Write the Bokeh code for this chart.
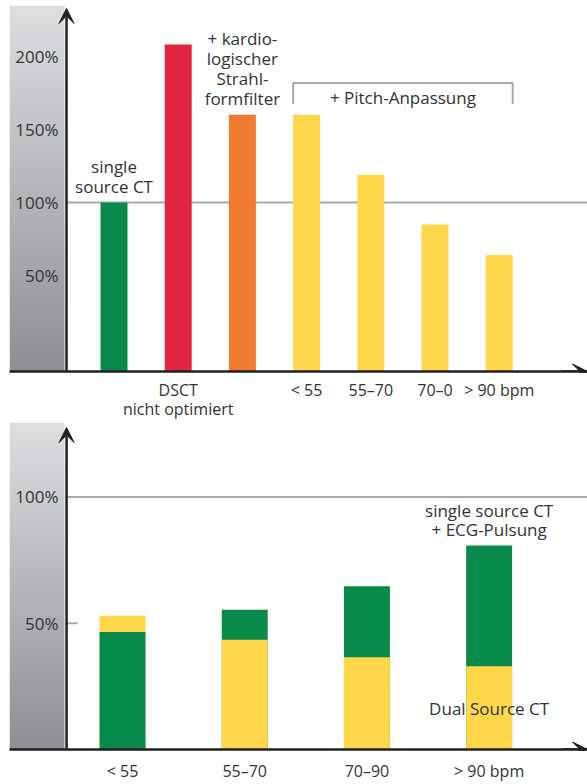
import numpy as np
from bokeh.plotting import figure
from bokeh.models import Range1d, FixedTicker, Arrow, VeeHead, ColumnDataSource
from bokeh.layouts import column
from bokeh.embed import file_html
from bokeh.resources import INLINE
from bokeh.core.properties import value

# ---------------- data ----------------
top_categories = ["single source CT", "DSCT nicht optimiert", "+ kardiologischer Strahlformfilter",
                  "< 55", "55–70", "70–0", "> 90 bpm"]
top_values = [100, 208, 160, 160, 119, 85, 64]
top_colors = ["#078a4a", "#e1263f", "#f27a30", "#fed84a", "#fed84a", "#fed84a", "#fed84a"]
top_tick_positions = [1, 3, 4, 5, 6]
top_tick_labels = ["DSCT\nnicht optimiert", "< 55", "55–70", "70–0", "> 90 bpm"]
top_y_ticks = [50, 100, 150, 200]
top_y_labels = ["50%", "100%", "150%", "200%"]

bottom_categories = ["< 55", "55–70", "70–90", "> 90 bpm"]
dual_source = [53, 43.5, 36.5, 33]
single_source_ecg = [46.5, 55.3, 64.7, 80.8]
bottom_y_ticks = [50, 100]
bottom_y_labels = ["50%", "100%"]

GREEN = "#078a4a"
YELLOW = "#fed84a"
FONT = "Open Sans"
TXT = "#333333"
AX = "#231f20"
GRID = "#a8a9ab"


def gradient_image(n=256):
    t = np.linspace(0.0, 1.0, n)[:, None]
    bot = np.array([141, 143, 147], dtype=float)
    top = np.array([221, 222, 224], dtype=float)
    rgb = np.round(bot + (top - bot) * t).astype(np.uint8)
    img = np.zeros((n, 1), dtype=np.uint32)
    v = img.view(dtype=np.uint8).reshape((n, 1, 4))
    v[:, 0, 0] = rgb[:, 0]
    v[:, 0, 1] = rgb[:, 1]
    v[:, 0, 2] = rgb[:, 2]
    v[:, 0, 3] = 255
    return img


def style_common(p):
    p.outline_line_color = None
    p.grid.visible = False
    p.background_fill_color = "white"
    p.border_fill_color = "white"


def style_yaxis(p, ticks, labels):
    ax = p.yaxis[0]
    ax.ticker = FixedTicker(ticks=ticks)
    ax.major_label_overrides = {t: l for t, l in zip(ticks, labels)}
    ax.axis_line_color = None
    ax.major_tick_line_color = None
    ax.minor_tick_line_color = None
    ax.major_tick_out = 0
    ax.major_tick_in = 0
    ax.major_label_standoff = -49
    ax.major_label_text_font = FONT
    ax.major_label_text_font_size = "17px"
    ax.major_label_text_color = TXT


def style_xaxis(p, ticks, labels, standoff):
    ax = p.xaxis[0]
    ax.ticker = FixedTicker(ticks=ticks)
    ax.major_label_overrides = {t: l for t, l in zip(ticks, labels)}
    ax.axis_line_color = AX
    ax.axis_line_width = 2.5
    ax.major_tick_line_color = None
    ax.minor_tick_line_color = None
    ax.major_tick_out = 0
    ax.major_tick_in = 0
    ax.major_label_standoff = standoff
    ax.major_label_text_font = FONT
    ax.major_label_text_font_size = "16px"
    ax.major_label_text_color = TXT
    ax.major_label_text_line_height = 0.88


# ---------------- top chart ----------------
tx0, tx1 = -1.628, 7.375
ty0, ty1 = -15.6, 234.7
t_axis_x = -0.74
t_panel_right = -0.771
bar_w_top = 0.42

p1 = figure(width=587, height=422, x_range=Range1d(tx0, tx1), y_range=Range1d(ty0, ty1),
            output_backend="svg", toolbar_location=None,
            min_border_left=9, min_border_right=0, min_border_top=5, min_border_bottom=49)
style_common(p1)

p1.image_rgba(image=[gradient_image()], x=tx0, y=ty0, dw=t_panel_right - tx0, dh=ty1 - ty0)
p1.segment(x0=[t_axis_x], y0=[100], x1=[tx1], y1=[100], line_color=GRID, line_width=2)

p1.vbar(x=list(range(len(top_values))), top=top_values, bottom=ty0, width=bar_w_top,
        fill_color=top_colors, line_color=None)

p1.text(x=[0], y=[top_values[0]], text=["single\nsource CT"], text_align="center",
        text_baseline="bottom", y_offset=-4, text_font=value(FONT), text_font_size="17px",
        text_color=TXT, text_line_height=0.91)
p1.text(x=[2], y=[top_values[2]], text=["+ kardio-\nlogischer\nStrahl-\nformfilter"],
        text_align="center", text_baseline="bottom", y_offset=-5, text_font=value(FONT),
        text_font_size="17px", text_color=TXT, text_line_height=0.87)

# bracket "+ Pitch-Anpassung"
bl = 3 - bar_w_top / 2
br = 6 + bar_w_top / 2
p1.line(x=[bl, bl, br, br], y=[167.4, 181.7, 181.7, 167.4], line_color=GRID, line_width=2)
p1.text(x=[(3 + 6) / 2], y=[171.5], text=["+ Pitch-Anpassung"], text_align="center",
        text_baseline="middle", text_font=value(FONT), text_font_size="17px", text_color=TXT)

style_yaxis(p1, top_y_ticks, top_y_labels)
style_xaxis(p1, top_tick_positions, top_tick_labels, 7)

p1.add_layout(Arrow(end=VeeHead(size=15, fill_color=AX, line_color=AX),
                    x_start=t_axis_x, y_start=ty0, x_end=t_axis_x, y_end=ty1 - 2,
                    line_color=AX, line_width=2.5))
p1.add_layout(Arrow(end=VeeHead(size=15, fill_color=AX, line_color=AX),
                    x_start=tx1 - 0.4, y_start=ty0, x_end=tx1, y_end=ty0,
                    line_color=AX, line_width=2.5))

# ---------------- bottom chart ----------------
bx0, bx1 = -0.925, 3.805
by0, by1 = 0, 129.5
b_axis_x = -0.458
b_panel_right = -0.475
bar_w_bot = 0.376

p2 = figure(width=587, height=362, x_range=Range1d(bx0, bx1), y_range=Range1d(by0, by1),
            output_backend="svg", toolbar_location=None,
            min_border_left=9, min_border_right=0, min_border_top=0, min_border_bottom=31)
style_common(p2)

p2.image_rgba(image=[gradient_image()], x=bx0, y=by0, dw=b_panel_right - bx0, dh=by1 - by0)
p2.segment(x0=[b_axis_x], y0=[100], x1=[bx1], y1=[100], line_color=GRID, line_width=2)
p2.segment(x0=[b_axis_x], y0=[50], x1=[b_axis_x + 0.09], y1=[50], line_color=GRID, line_width=2)

back_x, back_top, back_col, front_x, front_top, front_col = [], [], [], [], [], []
for i, (d, s) in enumerate(zip(dual_source, single_source_ecg)):
    pair = sorted([(d, YELLOW), (s, GREEN)], reverse=True)
    back_x.append(i); back_top.append(pair[0][0]); back_col.append(pair[0][1])
    front_x.append(i); front_top.append(pair[1][0]); front_col.append(pair[1][1])
src = ColumnDataSource(dict(x=back_x + front_x, top=back_top + front_top, color=back_col + front_col))
p2.vbar(x="x", top="top", bottom=0, width=bar_w_bot, fill_color="color", line_color=None, source=src)

p2.text(x=[3], y=[single_source_ecg[3]], text=["single source CT\n+ ECG-Pulsung"],
        text_align="center", text_baseline="bottom", y_offset=-4, text_font=value(FONT),
        text_font_size="17px", text_color=TXT, text_line_height=0.85)
p2.text(x=[3], y=[16.2], text=["Dual Source CT"], text_align="center", text_baseline="middle",
        text_font=value(FONT), text_font_size="17px", text_color=TXT)

style_yaxis(p2, bottom_y_ticks, bottom_y_labels)
style_xaxis(p2, list(range(len(bottom_categories))), bottom_categories, 10)

p2.add_layout(Arrow(end=VeeHead(size=15, fill_color=AX, line_color=AX),
                    x_start=b_axis_x, y_start=by0, x_end=b_axis_x, y_end=by1 - 2,
                    line_color=AX, line_width=2.5))
p2.add_layout(Arrow(end=VeeHead(size=15, fill_color=AX, line_color=AX),
                    x_start=bx1 - 0.2, y_start=by0, x_end=bx1, y_end=by0,
                    line_color=AX, line_width=2.5))

layout = column(p1, p2)
open("out.html", "w").write(file_html(layout, INLINE))
